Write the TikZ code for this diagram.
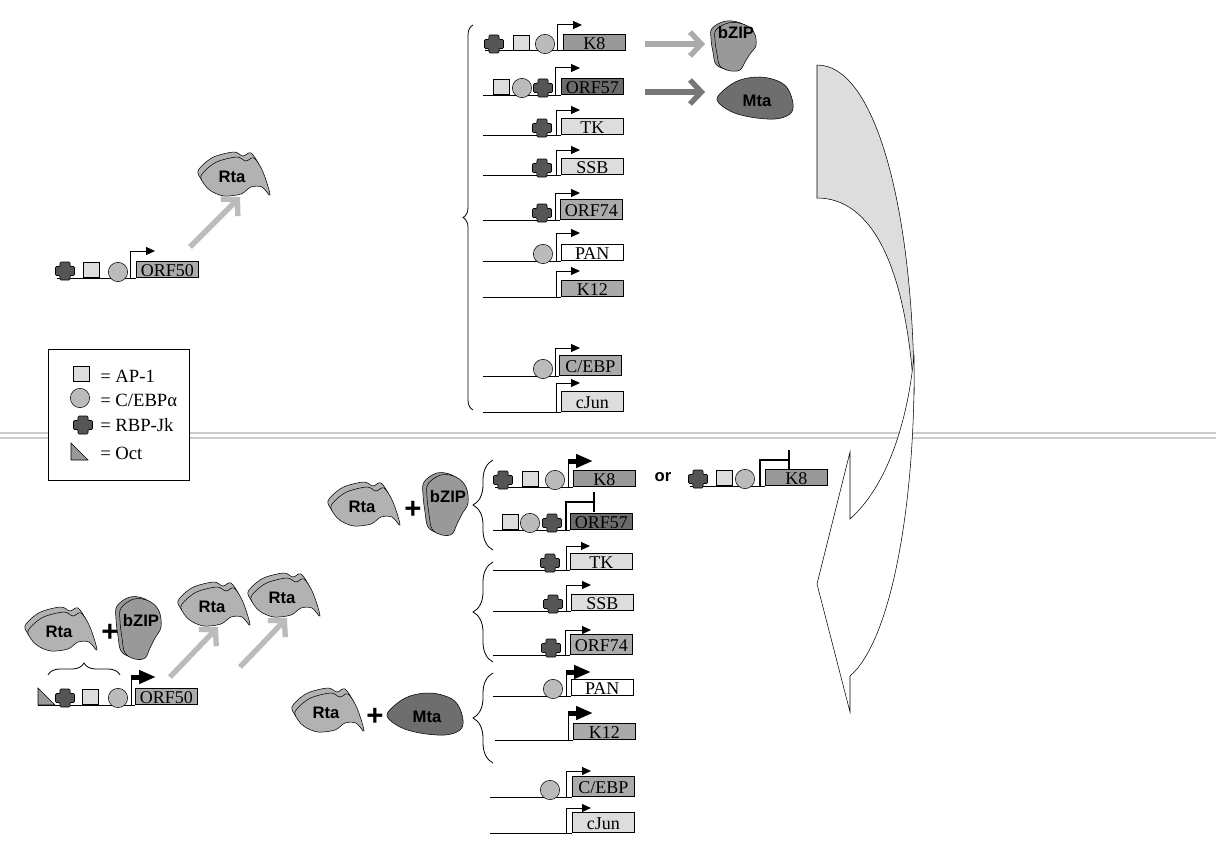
\documentclass[tikz,border=0pt]{standalone}
\usepackage{fontspec}
\setmainfont{Liberation Serif}
\setsansfont{Liberation Sans}
\usetikzlibrary{positioning, arrows.meta, decorations.pathreplacing}
\definecolor{aplight}{HTML}{DDDDDD}
\definecolor{cebpgray}{HTML}{BBBBBB}
\definecolor{rbpdark}{HTML}{555555}
\definecolor{orfmid}{HTML}{AAAAAA}
\definecolor{orfdark}{HTML}{6B6B6B}
\definecolor{rtagray}{HTML}{B2B2B2}
\definecolor{bzipgray}{HTML}{999999}
\definecolor{mtagray}{HTML}{6E6E6E}
\definecolor{prodlight}{HTML}{BBBBBB}
\definecolor{prodmid}{HTML}{AAAAAA}
\definecolor{proddark}{HTML}{777777}

\begin{document}
\begin{tikzpicture}[x=0.75pt, y=-0.75pt,
        gene/.style = {draw, anchor=south west, inner sep=0pt, minimum width=46.5pt, minimum height=12pt, text height=9.5pt, text depth=0pt, font=\fontsize{13.5}{15}\selectfont},
        tall/.style = {minimum height=15pt},
        ap/.style = {draw, fill=aplight, anchor=south, minimum size=11.8pt, inner sep=0pt},
        cebp/.style = {draw, circle, fill=cebpgray, minimum size=14.5pt, inner sep=0pt},
        dna/.style = {line width=0.75pt},
        tss/.style = {line width=0.75pt, -{Triangle[length=6.75pt, width=6pt]}},
        tssbold/.style = {line width=3.75pt, -{Triangle[length=12.75pt, width=9.75pt]}},
        block/.style = {line width=1.2pt, -{Bar[width=15pt]}},
        prod/.style = {line width=4pt, -{Straight Barb[length=8.5pt, width=18pt]}},
        protlabel/.style = {font=\sffamily\bfseries\fontsize{12.5}{13}\selectfont, inner sep=0pt},
        plussign/.style = {font=\sffamily\bfseries\fontsize{22}{22}\selectfont, inner sep=0pt},
        legtext/.style = {anchor=base west, inner sep=0pt, font=\fontsize{14}{16}\selectfont},
        curly/.style = {decorate, decoration={brace, amplitude=#1}, line width=0.6pt},
        sepline/.style = {draw=black!20, line width=1.5pt, double=white, double distance=2.25pt},
        rbpjk/.pic = {
            \draw[fill=rbpdark, rounded corners=0.8pt] (-5,-9) -- (5,-9) -- (5,-4.5) -- (9.5,-4.5) -- (9.5,4.5) -- (5,4.5) -- (5,9) -- (-5,9) -- (-5,4.5) -- (-9.5,4.5) -- (-9.5,-4.5) -- (-5,-4.5) -- cycle;
        },
        oct/.pic = {
            \draw[fill=bzipgray] (0,0) -- (0,-17) -- (17,0) -- cycle;
        },
        rta/.pic = {
            \foreach \s in {{(-3,-5)},{(0,0)}}
                \draw[fill=rtagray, shift={\s}] plot[smooth cycle, tension=0.55] coordinates {(-31,1) (-23,-8) (-13,-14) (5,-18) (14,-14) (22,-17) (31,-3) (38,20) (30,12) (19,12) (9,19) (-8,21) (-21,16) (-28,9)};
            \node[protlabel] (-lbl) at (0,2) {Rta};
        },
        bzip/.pic = {
            \foreach \s in {{(-4,-2)},{(0,0)}}
                \draw[fill=bzipgray, shift={\s}] plot[smooth cycle, tension=0.6] coordinates {(-5,-29) (10,-27) (20,-17) (22,-1) (16,10) (11,20) (6,30) (-4,31) (-14,25) (-17,10) (-19,-7) (-18,-20)};
            \node[protlabel] (-lbl) at (2,#1) {bZIP};
        },
        mta/.pic = {
            \draw[fill=mtagray] plot[smooth cycle, tension=0.6] coordinates {(-38,2) (-30,-9) (-15,-18) (5,-21) (23,-17) (33,-9) (38,6) (35,16) (20,21) (-5,19) (-25,13)};
            \node[protlabel] (-lbl) at (2,3) {Mta};
        },
    ]
    \path[use as bounding box, fill=white] (0,0) rectangle (1216,867);
    \draw[sepline] (0,435) -- (1216,435);

    % key
    \node[draw, fill=white, anchor=north west, minimum width=105.75pt, minimum height=98.25pt] (legend) at (48,349) {};
    \node[ap] (legap) at (81,382) {};
    \node[legtext] (legaptxt) at (100,382) {= AP-1};
    \node[cebp] (legcebp) at (80,398) {};
    \node[legtext] (legcebptxt) at (100,406) {= C/EBPα};
    \pic (legrbp) at (83,425) {rbpjk};
    \node[legtext] (legrbptxt) at (100,431) {= RBP-Jk};
    \pic (legoct) at (71,460) {oct};
    \node[legtext] (legocttxt) at (100,459) {= Oct};

    % latent ORF50 promoter
    \node[gene, fill=orfmid] (orf50a) at (136,278) {ORF50};
    \draw[dna] (57,278) -- (orf50a.south west);
    \pic at (65,271) {rbpjk};
    \node[ap] (orf50aap) at (91,278) {};
    \node[cebp] (orf50aceb) at (118,272) {};
    \draw[tss] (130,278) |- (155,251);
    \pic (rtaa) at (232,175) {rta};
    \coordinate (orf50aout) at (190,247);
    \coordinate (rtaain) at (240,197);
    \draw[prod, draw=prodlight] (orf50aout) -- (rtaain);

    % Rta responsive genes
    \draw[curly=7.5pt] (473,410) -- (473,25);
    \node[gene, fill=bzipgray] (k8a) at (563,51) {K8};
    \draw[dna] (485,51) -- (k8a.south west);
    \pic at (494,44) {rbpjk};
    \node[ap] (k8aap) at (521,51) {};
    \node[cebp] (k8aceb) at (545,44) {};
    \draw[tss] (557,51) |- (582,25);

    \node[gene, fill=orfdark] (orf57a) at (561,95) {ORF57};
    \draw[dna] (483,95) -- (orf57a.south west);
    \node[ap] (orf57aap) at (501,95) {};
    \node[cebp] (orf57aceb) at (522,88) {};
    \pic at (543,88) {rbpjk};
    \draw[tss] (555,95) |- (580,68);

    \node[gene, fill=aplight] (tka) at (561,135) {TK};
    \draw[dna] (483,135) -- (tka.south west);
    \pic at (542,128) {rbpjk};
    \draw[tss] (556,135) |- (580,110);

    \node[gene, fill=aplight] (ssba) at (561,175) {SSB};
    \draw[dna] (483,175) -- (ssba.south west);
    \pic at (542,168) {rbpjk};
    \draw[tss] (556,175) |- (580,150);

    \node[gene, tall, fill=orfmid] (orf74a) at (560,220) {ORF74};
    \draw[dna] (483,220) -- (orf74a.south west);
    \pic at (542,213) {rbpjk};
    \draw[tss] (555,220) |- (580,193);

    \node[gene, fill=white] (pana) at (561,261) {PAN};
    \draw[dna] (483,261) -- (pana.south west);
    \node[cebp] (panaceb) at (543,254) {};
    \draw[tss] (556,261) |- (580,233);

    \node[gene, fill=orfmid] (k12a) at (561,297) {K12};
    \draw[dna] (483,297) -- (k12a.south west);
    \draw[tss] (556,297) |- (580,271);

    \node[gene, tall, fill=orfmid] (cebpa) at (559,376) {C/EBP};
    \draw[dna] (483,376) -- (cebpa.south west);
    \node[cebp] (cebpaceb) at (543,369) {};
    \draw[tss] (555,376) |- (580,348);

    \node[gene, tall, fill=aplight] (cjuna) at (561,412) {cJun};
    \draw[dna] (483,412) -- (cjuna.south west);
    \draw[tss] (556,412) |- (580,383);

    \pic[yscale=0.8] (bzipa) at (734,46) {bzip=-17};
    \pic (mtaa) at (755,98) {mta};
    \coordinate (k8aout) at (645,44);
    \coordinate (bzipain) at (705,44);
    \coordinate (orf57aout) at (645,92);
    \coordinate (mtaain) at (705,92);
    \draw[prod, draw=prodmid] (k8aout) -- (bzipain);
    \draw[prod, draw=proddark] (orf57aout) -- (mtaain);

    % feedback arrow
    \draw[fill=aplight] (817,65) .. controls (878,65) and (914,220) .. (914,395) .. controls (906,262) and (870,198) .. (817,198) -- cycle;
    \draw[fill=white] (914,355) .. controls (916,500) and (892,640) .. (850,676) -- (850,712) -- (817,584) -- (850,452) -- (850,519) .. controls (888,485) and (908,420) .. (914,355) -- cycle;

    % lytic ORF50 promoter
    \node[gene, fill=orfmid] (orf50b) at (135,705) {ORF50};
    \draw[dna] (38,705) -- (orf50b.south west);
    \pic at (38,705) {oct};
    \pic at (65,698) {rbpjk};
    \node[ap] (orf50bap) at (90,705) {};
    \node[cebp] (orf50bceb) at (118,698) {};
    \draw[dna] (131,705) -- (131,675);
    \draw[tssbold] (130.5,677) -- (156,677);
    \draw[curly=9pt] (48,675) -- (120,675);
    \pic (rtab) at (59,630) {rta};
    \node[plussign] (plusb) at (110,633) {+};
    \pic (bzipb) at (139,628) {bzip=-7};
    \pic (rtac) at (212,605) {rta};
    \pic (rtad) at (282,596) {rta};
    \coordinate (orf50bout) at (170,677);
    \coordinate (rtacin) at (218,627);
    \coordinate (rtacout) at (240,667);
    \coordinate (rtadin) at (287,618);
    \draw[prod, draw=prodlight] (orf50bout) -- (rtacin);
    \draw[prod, draw=prodlight] (rtacout) -- (rtadin);

    % partners
    \pic (rtae) at (362,505) {rta};
    \node[plussign] (pluse) at (413,510) {+};
    \pic (bzipe) at (446,504) {bzip=-7};
    \pic (rtaf) at (326,711) {rta};
    \node[plussign] (plusf) at (375,717) {+};
    \pic (mtaf) at (425,714) {mta};

    % regulated genes
    \draw[curly=15pt] (493,550) -- (493,460);
    \draw[curly=15pt] (493,662) -- (493,562);
    \draw[curly=15pt] (493,763) -- (493,673);

    \node[gene, fill=bzipgray] (k8b) at (573,487) {K8};
    \draw[dna] (495,487) -- (k8b.south west);
    \pic at (503,480) {rbpjk};
    \node[ap] (k8bap) at (530,487) {};
    \node[cebp] (k8bceb) at (555,480) {};
    \draw[dna] (568,487) -- (568,459);
    \draw[tssbold] (567.5,461) -- (593,461);
    \node[protlabel] (ortxt) at (663,477) {or};
    \node[gene, fill=bzipgray] (k8c) at (765,486) {K8};
    \draw[dna] (690,486) -- (k8c.south west);
    \pic at (698,479) {rbpjk};
    \node[ap] (k8cap) at (724,486) {};
    \node[cebp] (k8cceb) at (745,479) {};
    \draw[block] (760,486) |- (790,460);

    \node[gene, fill=orfdark] (orf57b) at (570,530) {ORF57};
    \draw[dna] (493,530) -- (orf57b.south west);
    \node[ap] (orf57bap) at (510,530) {};
    \node[cebp] (orf57bceb) at (530,523) {};
    \pic at (552,523) {rbpjk};
    \draw[block] (566,530) |- (595,502);

    \node[gene, fill=aplight] (tkb) at (570,570) {TK};
    \draw[dna] (493,570) -- (tkb.south west);
    \pic at (550,563) {rbpjk};
    \draw[tss] (566,570) |- (590,546);

    \node[gene, fill=aplight] (ssbb) at (571,611) {SSB};
    \draw[dna] (493,611) -- (ssbb.south west);
    \pic at (553,604) {rbpjk};
    \draw[tss] (566,611) |- (591,585);

    \node[gene, tall, fill=orfmid] (orf74b) at (570,655) {ORF74};
    \draw[dna] (493,655) -- (orf74b.south west);
    \pic at (551,648) {rbpjk};
    \draw[tss] (565,655) |- (591,630);

    \node[gene, fill=white] (panb) at (571,696) {PAN};
    \draw[dna] (493,696) -- (panb.south west);
    \node[cebp] (panbceb) at (553,689) {};
    \draw[dna] (566,696) -- (566,670);
    \draw[tssbold] (565.5,672) -- (591,672);

    \node[gene, fill=orfmid] (k12b) at (573,740) {K12};
    \draw[dna] (495,740) -- (k12b.south west);
    \draw[dna] (568,740) -- (568,711);
    \draw[tssbold] (567.5,713) -- (593,713);

    \node[gene, tall, fill=orfmid] (cebpb) at (572,797) {C/EBP};
    \draw[dna] (490,797) -- (cebpb.south west);
    \node[cebp] (cebpbceb) at (550,790) {};
    \draw[tss] (566,797) |- (591,771);

    \node[gene, tall, fill=aplight] (cjunb) at (572,833) {cJun};
    \draw[dna] (490,833) -- (cjunb.south west);
    \draw[tss] (566,833) |- (591,808);
\end{tikzpicture}
\end{document}
